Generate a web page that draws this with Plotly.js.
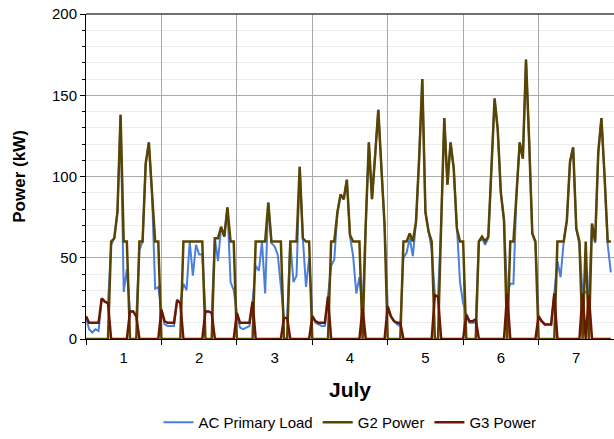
<!DOCTYPE html>
<html>
<head>
<meta charset="utf-8">
<script src="https://cdn.plot.ly/plotly-3.0.1.min.js"></script>
<style>
  html, body { margin: 0; padding: 0; background: #fff; }
  #chart { width: 614px; height: 439px; }
</style>
</head>
<body>
<div id="chart"></div>
<script>
// ---- data (hourly, July 1 00:00 to July 7 23:00) ----
const days = ["01", "02", "03", "04", "05", "06", "07"];
const hours = ["00","01","02","03","04","05","06","07","08","09","10","11",
               "12","13","14","15","16","17","18","19","20","21","22","23"];

const acPrimaryLoad = [
  13,6,4,6,5,25,23,22,58,62,78,138,29,43,17,17,14,55,60,108,121,90,31,32,
  18,9,8,8,8,24,22,34,30,60,39,58,52,52,17,17,16,62,48,69,63,81,35,30,
  16,7,6,7,8,23,45,42,60,28,84,59,57,52,33,13,13,60,35,39,106,62,32,50,
  14,10,9,8,8,26,45,49,78,89,86,98,63,51,28,38,19,70,121,86,113,141,105,70,
  20,14,11,9,8,50,53,62,51,72,111,160,78,66,55,27,26,70,136,95,121,105,68,35,
  22,14,10,10,10,60,62,58,62,105,148,129,90,73,28,34,34,90,121,111,172,122,65,59,
  14,11,9,9,9,28,48,38,60,73,109,118,68,58,28,29,27,71,59,115,136,100,58,41
];
const g2Power = [
  0,0,0,0,0,0,0,0,60,62,78,138,60,60,0,0,0,60,60,108,121,90,60,60,
  0,0,0,0,0,0,0,60,60,60,60,60,60,60,0,0,0,62,62,69,63,81,60,60,
  0,0,0,0,0,0,60,60,60,60,84,60,60,60,60,0,0,60,60,60,106,62,60,60,
  0,0,0,0,0,0,60,60,78,89,86,98,64,60,60,60,0,70,121,86,113,141,105,70,
  0,0,0,0,0,60,60,65,60,72,111,160,78,66,60,0,0,70,136,95,121,105,68,60,
  60,0,0,0,0,60,63,60,63,105,148,129,90,73,0,60,60,90,121,111,172,122,65,60,
  0,0,0,0,0,0,60,60,60,73,109,118,68,60,0,60,0,71,60,115,136,100,60,60
];
const g3Power = [
  14,10,10,10,10,25,23,22,0,0,0,0,0,0,17,17,14,0,0,0,0,0,0,0,
  18,11,10,10,10,24,22,0,0,0,0,0,0,0,17,17,16,0,0,0,0,0,0,0,
  16,10,10,10,10,23,0,0,0,0,0,0,0,0,0,13,13,0,0,0,0,0,0,0,
  14,11,10,10,10,26,0,0,0,0,0,0,0,0,0,0,19,0,0,0,0,0,0,0,
  20,14,11,10,10,0,0,0,0,0,0,0,0,0,0,27,26,0,0,0,0,0,0,0,
  0,15,11,11,12,0,0,0,0,0,0,0,0,0,28,0,0,0,0,0,0,0,0,0,
  14,11,9,9,9,28,0,0,0,0,0,0,0,0,28,0,27,0,0,0,0,0,0,0
];
const seriesNames = ["AC Primary Load", "G2 Power", "G3 Power"];

// timestamps
const times = [];
days.forEach(d => hours.forEach(h => times.push("2023-07-" + d + " " + h + ":00")));

const colors = ["#4a7fdc", "#5a4500", "#6a1800"];
const values = [acPrimaryLoad, g2Power, g3Power];
const widths = [2, 2.5, 2.5];

const traces = values.map((v, i) => ({
  type: "scatter",
  mode: "lines",
  x: times,
  y: v,
  name: seriesNames[i],
  line: { color: colors[i], width: widths[i] },
  hoverinfo: "skip"
}));

const font = "Liberation Sans, Arial, sans-serif";

const layout = {
  width: 614,
  height: 439,
  margin: { l: 86, r: 0, t: 14, b: 99 },
  paper_bgcolor: "#fff",
  plot_bgcolor: "#fff",
  font: { family: font, size: 15, color: "#000" },
  showlegend: true,
  legend: {
    orientation: "h",
    x: 0.5, xanchor: "center",
    y: -0.257, yanchor: "middle",
    font: { family: font, size: 15, color: "#000" },
    itemwidth: 30,
    tracegroupgap: 0
  },
  xaxis: {
    type: "date",
    range: ["2023-07-01 00:00", "2023-07-08 00:00"],
    tick0: "2023-07-01",
    dtick: 86400000,
    tickformat: "%-d",
    ticklabelmode: "period",
    ticks: "outside",
    ticklen: 5,
    tickcolor: "#000",
    showgrid: true,
    gridcolor: "#a8a8a8",
    gridwidth: 1,
    showline: true,
    linecolor: "#000",
    linewidth: 1,
    mirror: false,
    zeroline: false,
    tickfont: { family: font, size: 15, color: "#000" },
    title: { text: "July", font: { family: font, size: 21, color: "#000", weight: "bold" }, standoff: 17 },
    automargin: false
  },
  yaxis: {
    range: [0, 200],
    tick0: 0,
    dtick: 50,
    ticks: "outside",
    ticklen: 5,
    tickcolor: "#000",
    showgrid: true,
    gridcolor: "#ababab",
    gridwidth: 1,
    showline: true,
    linecolor: "#000",
    linewidth: 1,
    zeroline: false,
    minor: { dtick: 10, ticks: "outside", ticklen: 3, tickcolor: "#000", showgrid: true, gridcolor: "#ececec", gridwidth: 1 },
    tickfont: { family: font, size: 15, color: "#000" },
    title: { text: "Power (kW)", font: { family: font, size: 17, color: "#000", weight: "bold" }, standoff: 22 },
    automargin: false
  },
  shapes: [
    { type: "line", xref: "paper", yref: "paper", x0: 0, x1: 1, y0: 1, y1: 1, line: { color: "#404040", width: 1.5 } }
  ]
};

Plotly.newPlot("chart", traces, layout, { staticPlot: true, displayModeBar: false });
</script>
</body>
</html>
